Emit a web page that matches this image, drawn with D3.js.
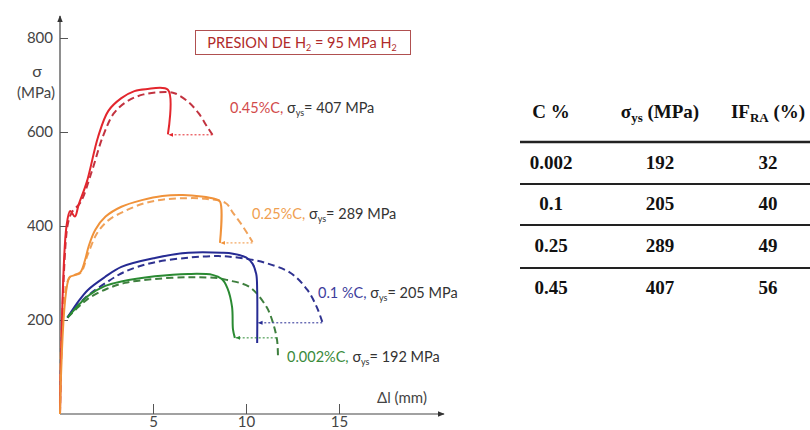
<!DOCTYPE html>
<html>
<head>
<meta charset="utf-8">
<script src="https://cdn.jsdelivr.net/npm/d3@7"></script>
<style>
  body { margin: 0; background: #fff; }
  svg { display: block; }
</style>
</head>
<body>
<div id="chart"></div>
<script>
// curvas esfuerzo - alargamiento, [Δl (mm), σ (MPa)]
const red_solid = [[0,0],[0.35,400],[0.55,432],[0.8,420],[1.0,445],[1.45,495],[2.05,590],[2.6,645],[3.3,672],[4.0,687],[4.6,691],[5.8,690],[5.8,595]];
const red_dashed = [[0,0],[0.4,400],[0.65,430],[1.1,450],[1.7,515],[2.3,590],[2.9,640],[3.6,665],[4.5,680],[5.8,685],[6.2,682],[6.9,664],[7.45,640],[7.9,612],[8.2,594]];
const orange_solid = [[0,0],[0.5,290],[0.75,295],[1.1,302],[1.35,328],[1.55,358],[1.9,392],[2.45,420],[3.3,441],[4.4,455],[5.5,464],[6.6,466],[7.6,463],[8.3,458],[8.6,452],[8.6,364]];
const orange_dashed = [[0,0],[0.5,290],[1.1,300],[1.5,340],[2.0,385],[2.6,412],[3.5,432],[4.5,448],[5.5,456],[6.6,459],[7.8,458],[8.9,449],[9.3,428],[9.85,398],[10.35,366]];
const blue_solid = [[0.4,205],[1.0,240],[1.5,264],[2.4,291],[3.3,313],[5.1,332],[6.9,343],[8.7,343],[9.3,341],[10.0,333],[10.35,320],[10.55,298],[10.6,264],[10.6,151]];
const blue_dashed = [[0.4,205],[1.0,233],[1.5,252],[2.5,280],[3.5,303],[5.0,322],[7.0,333],[8.5,336],[9.3,334],[10.2,329],[11.1,321],[12.4,300],[13.3,264],[13.8,228],[14.1,196]];
const green_solid = [[0.4,205],[1.0,232],[1.5,251],[2.4,272],[3.3,282],[5.1,293],[6.9,298],[8.2,296],[8.7,287],[9.0,268],[9.25,228],[9.3,180],[9.4,162]];
const green_dashed = [[0.4,205],[1.0,228],[1.5,245],[2.5,266],[3.5,279],[5.0,287],[7.0,291],[8.5,289],[9.0,285],[10.2,270],[11.1,228],[11.45,194],[11.67,157],[11.72,121]];
// flechas punteadas: [desde, hasta]
const arrows = [
  [[8.2,594],[5.85,594]],
  [[10.35,364],[8.65,364]],
  [[14.1,194],[10.65,194]],
  [[11.65,162],[9.45,162]]
];
const xTicks = [5, 10, 15];
const yTicks = [200, 400, 600, 800];
const carbon = ["0.45%C,", "0.25%C,", "0.1 %C,", "0.002%C,"];
const sigmaYs = ["407", "289", "205", "192"];
// tabla
const colC = ["0.002", "0.1", "0.25", "0.45"];
const colSys = ["192", "205", "289", "407"];
const colIF = ["32", "40", "49", "56"];

const solidColors = ["#e3262d", "#f0923a", "#262b93", "#2a8a32"];
const dashColors = ["#c23340", "#f0a25a", "#2f3290", "#3e7f3e"];
const labelColors = ["#d24a4a", "#f0a050", "#3d3d9c", "#3a8a3a"];

const svg = d3.select("#chart").append("svg")
    .attr("width", 810)
    .attr("height", 430)
    .style("font-family", "Lato, sans-serif");

const x = d3.scaleLinear().domain([0, 15]).range([60, 339]);
const y = d3.scaleLinear().domain([0, 800]).range([414, 38]);

const defs = svg.append("defs");
defs.append("marker").attr("id", "axArrow")
    .attr("viewBox", "0 0 10 10").attr("refX", 9).attr("refY", 5)
    .attr("markerWidth", 6).attr("markerHeight", 6).attr("orient", "auto")
    .append("path").attr("d", "M0,1L10,5L0,9Z").attr("fill", "#333");
solidColors.forEach((c, i) => {
    defs.append("marker").attr("id", "arr" + i)
        .attr("viewBox", "0 0 10 10").attr("refX", 9).attr("refY", 5)
        .attr("markerWidth", 5).attr("markerHeight", 5).attr("orient", "auto")
        .append("path").attr("d", "M0,1L10,5L0,9Z").attr("fill", c);
});

// ejes
svg.append("line")
    .attr("x1", x(0)).attr("y1", y(0)).attr("x2", 444).attr("y2", y(0))
    .attr("stroke", "#444").attr("stroke-width", 1.2)
    .attr("marker-end", "url(#axArrow)");
svg.append("line")
    .attr("x1", x(0)).attr("y1", y(0)).attr("x2", x(0)).attr("y2", 16)
    .attr("stroke", "#444").attr("stroke-width", 1.2)
    .attr("marker-end", "url(#axArrow)");

const xAxis = svg.append("g")
    .attr("transform", "translate(0," + y(0) + ")")
    .call(d3.axisBottom(x).tickValues(xTicks).tickSize(-10).tickPadding(2));
const yAxis = svg.append("g")
    .attr("transform", "translate(" + x(0) + ",0)")
    .call(d3.axisLeft(y).tickValues(yTicks).tickSize(-8).tickPadding(7));
[xAxis, yAxis].forEach(g => {
    g.select(".domain").remove();
    g.selectAll(".tick line").attr("stroke", "#555");
    g.selectAll(".tick text")
        .style("font-family", "Lato, sans-serif")
        .style("font-size", "15px")
        .attr("fill", "#444");
});

svg.append("text").attr("x", 37).attr("y", 77).attr("text-anchor", "middle")
    .attr("fill", "#444").style("font-size", "16px").text("σ");
svg.append("text").attr("x", 36).attr("y", 98).attr("text-anchor", "middle")
    .attr("fill", "#444").style("font-size", "15px").text("(MPa)");
svg.append("text").attr("x", 402).attr("y", 403).attr("text-anchor", "middle")
    .attr("fill", "#444").style("font-size", "15px").text("Δl (mm)");

// curvas
const line = d3.line()
    .x(d => x(d[0]))
    .y(d => y(d[1]))
    .curve(d3.curveCatmullRom.alpha(0.5));

const solids = [red_solid, orange_solid, blue_solid, green_solid];
const dashes = [red_dashed, orange_dashed, blue_dashed, green_dashed];

dashes.forEach((d, i) => {
    svg.append("path").datum(d)
        .attr("d", line)
        .attr("fill", "none")
        .attr("stroke", dashColors[i])
        .attr("stroke-width", 2)
        .attr("stroke-dasharray", "7,4");
});
solids.forEach((d, i) => {
    svg.append("path").datum(d)
        .attr("d", line)
        .attr("fill", "none")
        .attr("stroke", solidColors[i])
        .attr("stroke-width", 2);
});

arrows.forEach((a, i) => {
    svg.append("line")
        .attr("x1", x(a[0][0])).attr("y1", y(a[0][1]))
        .attr("x2", x(a[1][0])).attr("y2", y(a[1][1]))
        .attr("stroke", solidColors[i])
        .attr("stroke-width", 1)
        .attr("stroke-dasharray", "2,2")
        .attr("marker-end", "url(#arr" + i + ")");
});

// etiquetas de cada curva
const labelPos = [[230, 113], [252, 219], [318, 298], [287, 362]];
carbon.forEach((c, i) => {
    const t = svg.append("text")
        .attr("x", labelPos[i][0]).attr("y", labelPos[i][1])
        .style("font-size", "14.5px").attr("fill", "#333");
    t.append("tspan").attr("fill", labelColors[i]).text(c + " ");
    t.append("tspan").text("σ");
    t.append("tspan").attr("dy", 3).style("font-size", "9px").text("ys");
    t.append("tspan").attr("dy", -3).text("= " + sigmaYs[i] + " MPa");
});

// recuadro de presion
svg.append("rect")
    .attr("x", 195.5).attr("y", 30.5).attr("width", 215).attr("height", 24)
    .attr("fill", "none").attr("stroke", "#b05050").attr("stroke-width", 1);
const title = svg.append("text")
    .attr("x", 302).attr("y", 47.5).attr("text-anchor", "middle")
    .style("font-size", "14.5px").attr("fill", "#b02a2a");
title.append("tspan").text("PRESION DE H");
title.append("tspan").attr("dy", 3).style("font-size", "9px").text("2");
title.append("tspan").attr("dy", -3).text(" = 95 MPa H");
title.append("tspan").attr("dy", 3).style("font-size", "9px").text("2");

// tabla
const tbl = svg.append("g")
    .style("font-family", "'Liberation Serif', serif")
    .style("font-weight", "bold")
    .attr("fill", "#111");
const colX = [551, 660, 768];
const rowY = [169, 210, 252, 294];

tbl.append("text").attr("x", colX[0]).attr("y", 118).attr("text-anchor", "middle")
    .style("font-size", "19px").text("C %");
const h2 = tbl.append("text").attr("x", colX[1]).attr("y", 118).attr("text-anchor", "middle")
    .style("font-size", "19px");
h2.append("tspan").text("σ");
h2.append("tspan").attr("dy", 4).style("font-size", "13px").text("ys");
h2.append("tspan").attr("dy", -4).text(" (MPa)");
const h3 = tbl.append("text").attr("x", colX[2]).attr("y", 118).attr("text-anchor", "middle")
    .style("font-size", "19px");
h3.append("tspan").text("IF");
h3.append("tspan").attr("dy", 4).style("font-size", "13px").text("RA");
h3.append("tspan").attr("dy", -4).text(" (%)");

[142, 184, 225, 268].forEach((ly, i) => {
    tbl.append("line")
        .attr("x1", 520).attr("x2", 810).attr("y1", ly).attr("y2", ly)
        .attr("stroke", "#222").attr("stroke-width", i === 0 ? 2.5 : 2);
});
[colC, colSys, colIF].forEach((col, j) => {
    col.forEach((v, i) => {
        tbl.append("text")
            .attr("x", colX[j]).attr("y", rowY[i])
            .attr("text-anchor", "middle")
            .style("font-size", "19px")
            .text(v);
    });
});
</script>
</body>
</html>
